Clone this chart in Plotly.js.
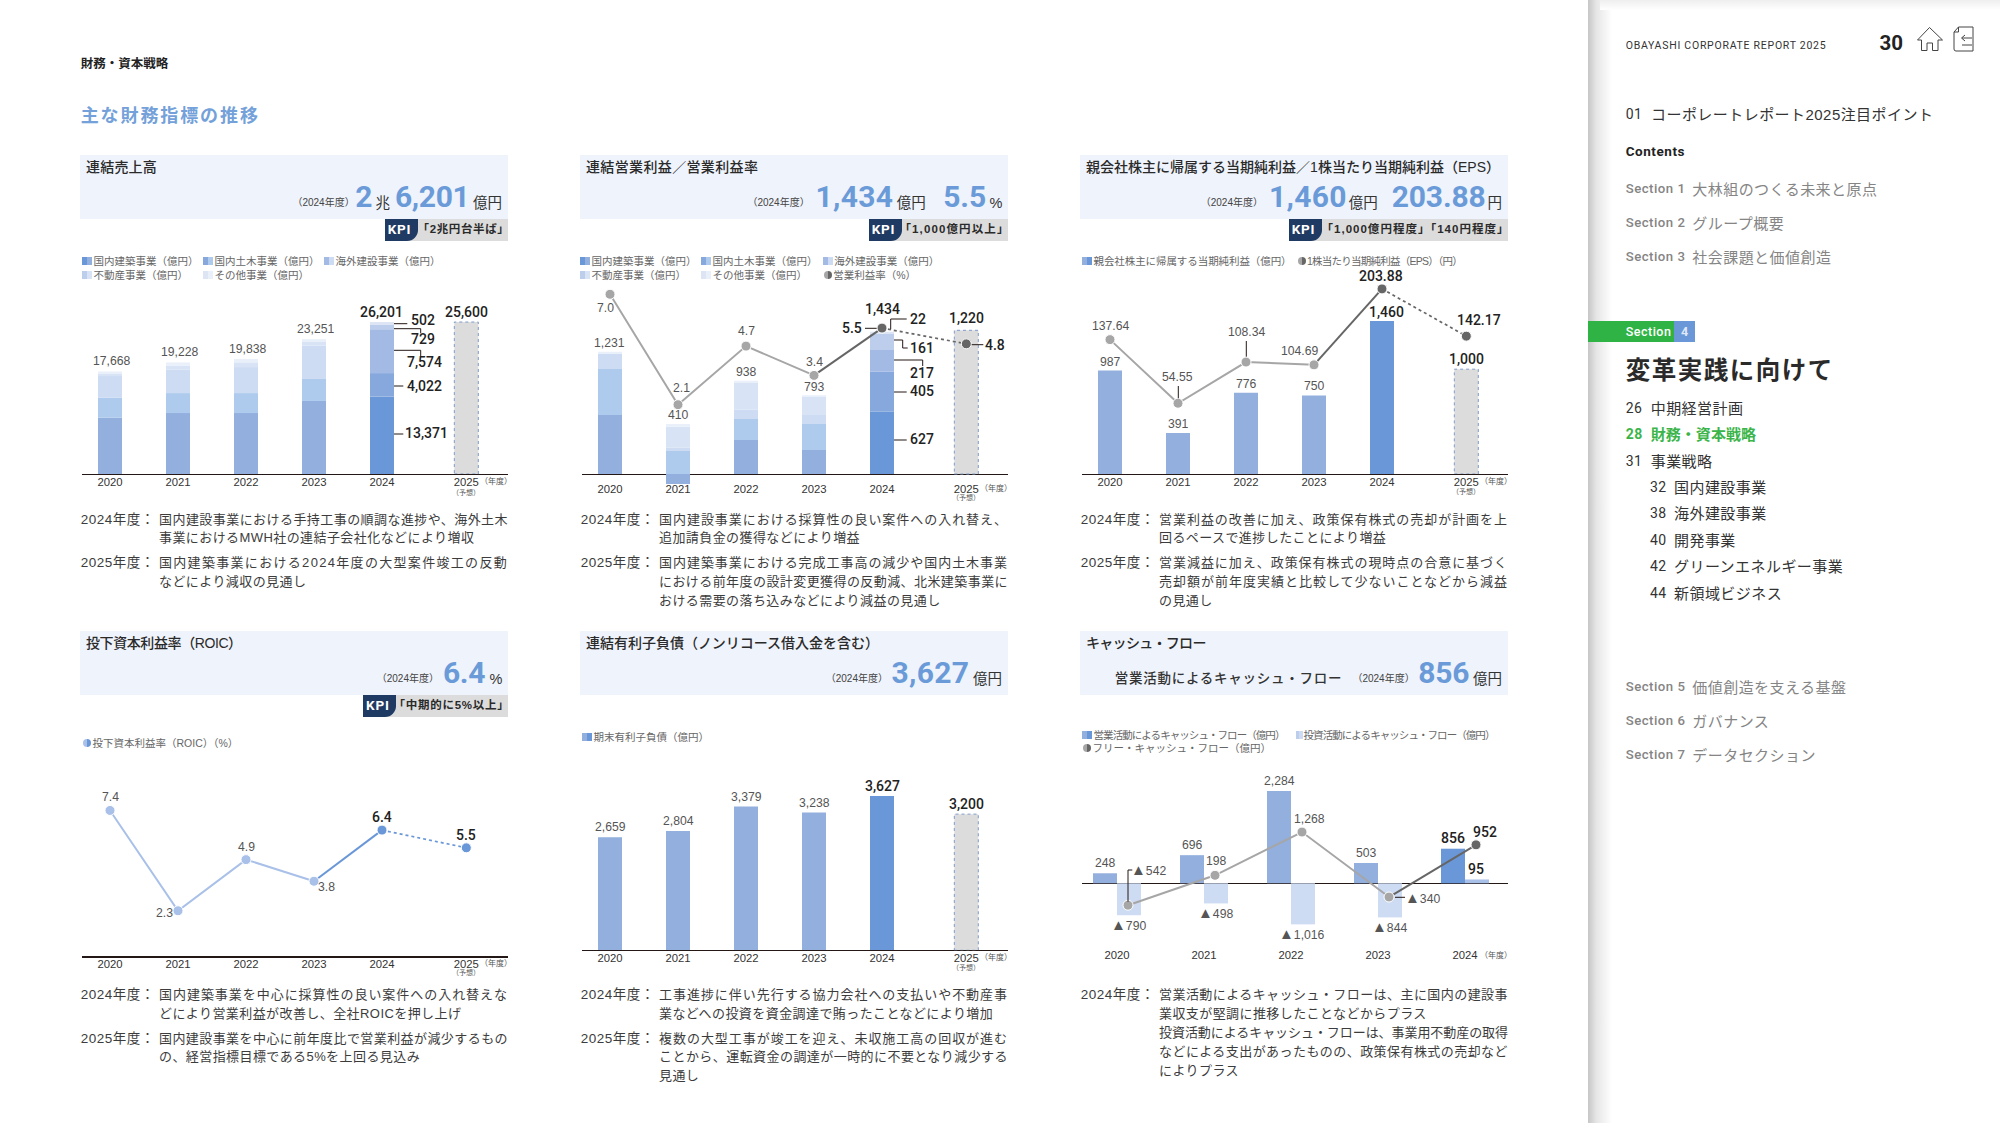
<!DOCTYPE html>
<html lang="ja">
<head>
<meta charset="utf-8">
<title>主な財務指標の推移</title>
<script src="https://cdn.plot.ly/plotly-3.0.1.min.js"></script>
<style>
html,body{margin:0;padding:0;background:#fff;width:2000px;height:1123px;overflow:hidden}
#page{position:absolute;left:0;top:0;width:2000px;height:1123px;font-family:"Liberation Sans","Noto Sans CJK JP",sans-serif;color:#333}
#plot{position:absolute;left:0;top:0;width:2000px;height:1123px}
.t{position:absolute;white-space:nowrap;line-height:1}
.box{position:absolute}
.body{position:absolute;white-space:nowrap;line-height:1.2;font-size:13px;color:#3c3c3c;letter-spacing:.42px;transform:translateY(-50%)}
</style>
</head>
<body>
<div id="page"></div>
<div id="plot"></div>
<script>
/* ---------- data ---------- */
const years = ["2020","2021","2022","2023","2024"];
const forecastYear = "2025";
const forecastSlot = 5.24;

const segmentNames = ["国内建築事業（億円）","国内土木事業（億円）","海外建設事業（億円）","不動産事業（億円）","その他事業（億円）"];

const salesDomesticBuilding = [9700,10500,10500,12590,13371];
const salesDomesticCivil    = [3450,3450,3450,3795,4022];
const salesOverseas         = [3740,4025,4485,5750,7574];
const salesRealEstate       = [450,690,820,620,729];
const salesOther            = [328,563,583,496,502];
const salesTotals           = [17668,19228,19838,23251,26201];
const salesForecastLabel    = 25600;
const salesForecastDrawn    = 26201;

const opDomesticBuilding = [594,-100,343,242,627];
const opDomesticCivil    = [463,232,212,262,405];
const opOverseas         = [151,34,91,91,217];
const opRealEstate       = [0,211,275,181,161];
const opOther            = [23,27,17,17,22];
const opTotals           = [1231,410,938,793,1434];
const opForecastLabel    = 1220;
const opForecastDrawn    = 1447;
const opMargin           = [7.0,2.1,4.7,3.4,5.5,4.8];

const netIncome          = [987,391,776,750,1460];
const netIncomeForecast  = 1000;
const eps                = [137.64,54.55,108.34,104.69,203.88,142.17];

const roic               = [7.4,2.3,4.9,3.8,6.4,5.5];

const debt               = [2659,2804,3379,3238,3627];
const debtForecast       = 3200;

const operatingCF        = [248,696,2284,503,856];
const investingCF        = [-790,-498,-1016,-844,95];
const freeCF             = [-542,198,1268,-340,952];

/* ---------- text content ---------- */
const panels = [
 {x:80, y:155, title:"連結売上高", titleW:71,
  values:[["（2024年度）",351.7,"p"],["2",373.3,"b"],["兆",390,"u"],["6,201",469.3,"b",74.3],["億円",502,"u"]],
  kpi:"「2兆円台半ば」", kpiX:385, kpiW:92},
 {x:580,y:155, title:"連結営業利益／営業利益率", titleW:172.3,
  values:[["（2024年度）",806.7,"p"],["1,434",893.3,"b",77.7],["億円",925.7,"u"],["5.5",986,"b",42.7],["%",1002.3,"u"]],
  kpi:"「1,000億円以上」", kpiX:869, kpiW:110},
 {x:1080,y:155,title:"親会社株主に帰属する当期純利益／1株当たり当期純利益（EPS）", titleW:414,
  values:[["（2024年度）",1260,"p"],["1,460",1346.7,"b",77.7],["億円",1377.7,"u"],["203.88",1485.7,"b",94],["円",1502,"u"]],
  kpi:"「1,000億円程度」「140円程度」", kpiX:1289, kpiW:188},
 {x:80, y:631, title:"投下資本利益率（ROIC）", titleW:155.7,
  values:[["（2024年度）",436,"p"],["6.4",485,"b",42],["%",502.3,"u"]],
  kpi:"「中期的に5%以上」", kpiX:363.3, kpiW:116},
 {x:580,y:631, title:"連結有利子負債（ノンリコース借入金を含む）", titleW:293,
  values:[["（2024年度）",885,"p"],["3,627",969.3,"b",77.7],["億円",1002,"u"]]},
 {x:1080,y:631,title:"キャッシュ・フロー", titleW:119.7,
  values:[["営業活動によるキャッシュ・フロー",1342.3,"s"],["（2024年度）",1411.7,"p"],["856",1469.3,"b",51],["億円",1502,"u"]]}
];

const notes = [
 {x:80,ys:[520,538.3],label:"2024年度：",lines:["国内建設事業における手持工事の順調な進捗や、海外土木","事業におけるMWH社の連結子会社化などにより増収"]},
 {x:80,ys:[563.3,582.3],label:"2025年度：",lines:["国内建築事業における2024年度の大型案件竣工の反動","などにより減収の見通し"]},
 {x:580,ys:[520,538.3],label:"2024年度：",lines:["国内建設事業における採算性の良い案件への入れ替え、","追加請負金の獲得などにより増益"]},
 {x:580,ys:[563.3,582.3,600.7],label:"2025年度：",lines:["国内建築事業における完成工事高の減少や国内土木事業","における前年度の設計変更獲得の反動減、北米建築事業に","おける需要の落ち込みなどにより減益の見通し"]},
 {x:1080,ys:[520,538.3],label:"2024年度：",lines:["営業利益の改善に加え、政策保有株式の売却が計画を上","回るペースで進捗したことにより増益"]},
 {x:1080,ys:[563.3,582.3,600.7],label:"2025年度：",lines:["営業減益に加え、政策保有株式の現時点の合意に基づく","売却額が前年度実績と比較して少ないことなどから減益","の見通し"]},
 {x:80,ys:[995,1014],label:"2024年度：",lines:["国内建築事業を中心に採算性の良い案件への入れ替えな","どにより営業利益が改善し、全社ROICを押し上げ"]},
 {x:80,ys:[1039,1057.3],label:"2025年度：",lines:["国内建設事業を中心に前年度比で営業利益が減少するもの","の、経営指標目標である5%を上回る見込み"]},
 {x:580,ys:[995,1014],label:"2024年度：",lines:["工事進捗に伴い先行する協力会社への支払いや不動産事","業などへの投資を資金調達で賄ったことなどにより増加"]},
 {x:580,ys:[1039,1057.3,1076],label:"2025年度：",lines:["複数の大型工事が竣工を迎え、未収施工高の回収が進む","ことから、運転資金の調達が一時的に不要となり減少する","見通し"]},
 {x:1080,ys:[995,1014,1033,1052,1070.7],label:"2024年度：",ragged:[1],lines:["営業活動によるキャッシュ・フローは、主に国内の建設事","業収支が堅調に推移したことなどからプラス","投資活動によるキャッシュ・フローは、事業用不動産の取得","などによる支出があったものの、政策保有株式の売却など","によりプラス"]}
];

const legends = [
 {y:261,items:[[82,segmentNames[0],0],[203,segmentNames[1],1],[324,segmentNames[2],2]]},
 {y:275,items:[[82,segmentNames[3],3],[203,segmentNames[4],4]]},
 {y:261,items:[[580,segmentNames[0],0],[701,segmentNames[1],1],[822.7,segmentNames[2],2]]},
 {y:275,items:[[580,segmentNames[3],3],[701,segmentNames[4],4],[822.7,"営業利益率（%）","g"]]},
 {y:261,items:[[1082,"親会社株主に帰属する当期純利益（億円）",0.5,198],[1296.5,"1株当たり当期純利益（EPS）（円）","g",155]]},
 {y:743,items:[[82,"投下資本利益率（ROIC）（%）","c"]]},
 {y:737,items:[[582,"期末有利子負債（億円）",0.5]]},
 {y:735,items:[[1082,"営業活動によるキャッシュ・フロー（億円）",0.5,191],[1296,"投資活動によるキャッシュ・フロー（億円）",2.5,191]]},
 {y:748.3,items:[[1082,"フリー・キャッシュ・フロー（億円）","g"]]}
];

const sideItems = [
 [1625.7,114,"01",1651,"コーポレートレポート2025注目ポイント","#333",400],
 [1625.7,189.3,"Section 1",1692.3,"大林組のつくる未来と原点","#858585",500],
 [1625.7,223,"Section 2",1692.3,"グループ概要","#858585",500],
 [1625.7,257,"Section 3",1692.3,"社会課題と価値創造","#858585",500],
 [1625.7,408.3,"26",1650.7,"中期経営計画","#333",400],
 [1625.7,434.3,"28",1650.7,"財務・資本戦略","#3bb54a",700],
 [1625.7,461,"31",1650.7,"事業戦略","#333",400],
 [1650,487.3,"32",1674,"国内建設事業","#333",400],
 [1650,513.3,"38",1674,"海外建設事業","#333",400],
 [1650,540,"40",1674,"開発事業","#333",400],
 [1650,566.3,"42",1674,"グリーンエネルギー事業","#333",400],
 [1650,593,"44",1674,"新領域ビジネス","#333",400],
 [1625.7,687,"Section 5",1692.3,"価値創造を支える基盤","#858585",500],
 [1625.7,721,"Section 6",1692.3,"ガバナンス","#858585",500],
 [1625.7,755,"Section 7",1692.3,"データセクション","#858585",500]
];

/* ---------- palette ---------- */
const BLUE_OLD=["#92afdd","#aecbee","#cddcf3","#d8e3f5","#e9f0fa"];
const BLUE_NEW=["#6a97d7","#86a8dc","#a3bae5","#bdcdec","#dde5f5"];
const GREY_BAR="#dcdcdc", DASH_BLUE="#7f9cc9", GREY_PT="#a6a6a6", DARK_PT="#666666";
const ROIC_OLD="#a9c0e8", ROIC_NEW="#6a97d7";
const SANS='"Liberation Sans","Noto Sans CJK JP",sans-serif';
const ROBOTO='Roboto,"Noto Sans CJK JP",sans-serif';

/* ---------- page chrome (HTML) ---------- */
const page=document.getElementById('page');
function box(x,y,w,h,css){const d=document.createElement('div');d.className='box';d.style.cssText=`left:${x}px;top:${y}px;width:${w}px;height:${h}px;${css||''}`;page.appendChild(d);return d;}
function put(x,yc,text,css){const s=document.createElement('span');s.className='t';s.textContent=text;s.style.cssText=`left:${x}px;top:${yc}px;transform:translateY(-50%);${css||''}`;page.appendChild(s);return s;}
function putR(xr,yc,text,css){const s=document.createElement('span');s.className='t';s.textContent=text;s.style.cssText=`left:${xr}px;top:${yc}px;transform:translate(-100%,-50%);${css||''}`;page.appendChild(s);return s;}
function fit(el,target){el.style.letterSpacing='0px';const w=el.getBoundingClientRect().width;el.style.letterSpacing=((target-w)/el.textContent.length).toFixed(3)+'px';return el;}

put(80.7,64.3,"財務・資本戦略","font-size:12.5px;font-weight:700;color:#222");
put(80.7,116,"主な財務指標の推移","font-size:18px;font-weight:700;color:#74a1d9;letter-spacing:1.9px");

panels.forEach(p=>{
  box(p.x,p.y,428,63.7,"background:#eff3fb");
  fit(put(p.x+6,p.y+11.7,p.title,"font-size:14px;color:#2a2a2a;font-weight:500"),p.titleW);
  const digitY=p.y+42, unitY=p.y+47.8;
  p.values.forEach(([txt,xr,k,w])=>{
    if(k==="b"){const el=putR(xr,digitY,txt,`font-family:${ROBOTO};font-weight:700;font-size:30px;letter-spacing:.8px;color:#6a9bd8`); if(w) fit(el,w);}
    if(k==="u") putR(xr,unitY,txt,"font-size:14.5px;color:#333");
    if(k==="p") putR(xr+3,unitY,txt,"font-size:10px;color:#444");
    if(k==="s") putR(xr,unitY,txt,"font-size:13.5px;font-weight:500;color:#333;letter-spacing:.75px");
  });
  if(p.kpi){
    const top=p.y+64, h=21.5, r=p.x+428;
    box(p.kpiX,top,r-p.kpiX,h,"background:#dcdcdc");
    box(p.kpiX,top,33,h,"background:#1f3a63;border-bottom-right-radius:11px");
    put(p.kpiX+2.7,top+h/2,"KPI",`font-family:${ROBOTO};font-weight:700;font-size:13.5px;color:#fff;letter-spacing:.8px`);
    fit(putR(r+1.5,top+h/2,p.kpi,"font-size:11.5px;font-weight:700;color:#2a2a2a"),p.kpiW);
  }
});

notes.forEach(n=>{
  put(n.x+.7,n.ys[0],n.label,"font-size:13.5px;color:#3c3c3c;letter-spacing:.5px");
  n.lines.forEach((ln,i)=>{
    const d=document.createElement('div');
    const full=i<n.lines.length-1 && !(n.ragged||[]).includes(i);
    d.className='body';
    d.textContent=ln;
    d.style.left=(n.x+79)+'px'; d.style.top=n.ys[i]+'px';
    page.appendChild(d);
    if(full) fit(d,349);
  });
});

legends.forEach(row=>{
  row.items.forEach(([x,name,kind,w])=>{
    let el;
    if(kind==="g"||kind==="c"){
      const a=kind==="g"?"#666666":"#6a97d7", b=kind==="g"?"#a6a6a6":"#a9c0e8";
      box(x+1,row.y-4,8,8,`border-radius:50%;background:linear-gradient(90deg,${b} 50%,${a} 50%)`);
      el=put(x+10.5,row.y,name,"font-size:10.5px;color:#666");
    }else if(kind===0.5||kind===2.5){
      const a=kind===0.5?BLUE_NEW[0]:BLUE_OLD[2], b=kind===0.5?BLUE_OLD[0]:BLUE_NEW[3];
      const sw=kind===0.5?10:6.5;
      box(x,row.y-4.4,sw,8.8,`background:linear-gradient(90deg,${b} 50%,${a} 50%)`);
      el=put(x+(kind===0.5?11.5:7.5),row.y,name,"font-size:10.5px;color:#666");
    }else{
      box(x,row.y-4.4,10,8.8,`background:linear-gradient(90deg,${BLUE_NEW[kind]} 50%,${BLUE_OLD[kind]} 50%)`);
      el=put(x+11.5,row.y,name,"font-size:10.5px;color:#666");
    }
    if(w) fit(el,w);
  });
});

/* sidebar */
box(1588,0,24,1123,"background:linear-gradient(90deg,#c6c6c6,#e6e6e6 35%,#fff)");
box(1600,0,400,10,"background:linear-gradient(180deg,#eeeeee,#fff)");
put(1625.7,46,"OBAYASHI CORPORATE REPORT 2025",`font-family:${ROBOTO};font-size:10.5px;color:#333;letter-spacing:.74px`);
put(1879.5,42.7,"30",`font-family:${ROBOTO};font-weight:700;font-size:20.5px;color:#222`);
const icons=document.createElement('div');
icons.innerHTML=`<svg style="position:absolute;left:1916px;top:26px" width="60" height="27" viewBox="0 0 60 27" fill="none" stroke="#444" stroke-width="1">
<path d="M1.5 14 L13.5 1.5 L26.5 14 L22 14 L22 24.5 L16.5 24.5 L16.5 17 L11 17 L11 24.5 L5.5 24.5 L5.5 14 Z"/>
<path d="M42.5 1 L57 1 L57 25 L40 25 Q38 25 38 23 L38 6 Z M42.5 1 L42.5 6 L38 6"/>
<path d="M56 12 L46 12 M49 9 L45.5 12 L49 15 M46 19 L56 19"/></svg>`;
page.appendChild(icons);
put(1625.7,152,"Contents",`font-family:${ROBOTO};font-weight:700;font-size:13.5px;color:#222;letter-spacing:.55px`);
box(1588,321,86,21,"background:#2fb344");
box(1674,321,21,21,"background:#6a97d7");
put(1625.7,331.5,"Section",`font-family:${ROBOTO};font-size:12.5px;font-weight:500;color:#fff;letter-spacing:.5px`);
put(1681,331.5,"4",`font-family:${ROBOTO};font-size:12.5px;font-weight:700;color:#dfe9f8`);
put(1625.7,371,"変革実践に向けて","font-size:24.5px;font-weight:700;color:#2a2a2a;letter-spacing:1.5px");
sideItems.forEach(([nx,y,num,tx,label,col,w])=>{
  const isSection=num.startsWith("Section");
  put(nx,y,num,`font-family:${ROBOTO};font-size:${isSection?13.2:14}px;color:${col};font-weight:${w};letter-spacing:.5px`);
  put(tx,y,label,`font-size:15px;letter-spacing:${w===700?.05:.45}px;color:${col};font-weight:${w===500?400:w}`);
});

/* ---------- plotly figure ---------- */
const W=2000,H=1123;
const px=x=>x/W, py=y=>1-y/H;
const slots=[0,1,2,3,4];
const allSlots=slots.concat([forecastSlot]);
const spacing=68, firstBar=28, plotW=426, barW=24/68;
const traces=[], shapes=[], annotations=[];
const layout={width:W,height:H,margin:{l:0,r:0,t:0,b:0,pad:0},paper_bgcolor:'rgba(0,0,0,0)',plot_bgcolor:'rgba(0,0,0,0)',
  showlegend:false,barmode:'relative',hovermode:false,shapes,annotations,font:{family:SANS}};

function yRange(bottom,top,zero,unitsPerPx){return [(zero-bottom)*unitsPerPx,(zero-top)*unitsPerPx];}
function setAxes(n,left,bottom,top,range,opt){
  opt=opt||{};
  const sp=opt.spacing||spacing, fb=opt.firstBar||firstBar;
  const vals=opt.tickvals||allSlots, text=opt.ticktext||years.concat([forecastYear]);
  layout['xaxis'+(n===1?'':n)]={domain:[px(left),px(left+plotW)],range:[-fb/sp,(plotW-fb)/sp],anchor:'y'+(n===1?'':n),
    tickmode:'array',tickvals:vals,ticktext:text,ticks:'',showgrid:false,zeroline:false,fixedrange:true,
    showline:!opt.zero,linecolor:'#231815',linewidth:opt.lineW||1,
    tickfont:{size:11.3,color:'#333',family:SANS},ticklabelstandoff:opt.standoff||0,automargin:false};
  layout['yaxis'+(n===1?'':n)]={domain:[py(bottom),py(top)],range,anchor:'x'+(n===1?'':n),showticklabels:false,ticks:'',
    showgrid:false,showline:false,fixedrange:true,automargin:false,zeroline:!!opt.zero,zerolinecolor:'#231815',zerolinewidth:1};
}
function overlay(id,baseN,bottom,top,zero,unitsPerPx){
  layout['yaxis'+id]={domain:[py(bottom),py(top)],range:yRange(bottom,top,zero,unitsPerPx),overlaying:'y'+baseN,anchor:'x'+baseN,
    visible:false,fixedrange:true};
}
const fmt=v=>v.toLocaleString('en-US');
const tri=v=>v<0?'<span style="font-size:15px">▲</span>'+fmt(-v):fmt(v);
const LBL={size:12.2,color:'#555',family:SANS};
const STRONG={size:14,color:'#222',family:ROBOTO,weight:500};
function lab(xa,ya,x,y,text,dx,dy,font){annotations.push({xref:xa,yref:ya,x,y,text,showarrow:false,xanchor:'center',yanchor:'middle',xshift:dx,yshift:dy,font:font||LBL,borderpad:0});}
function pxLab(x,y,text,font){annotations.push({xref:'paper',yref:'paper',x:px(x),y:py(y),text,showarrow:false,xanchor:'center',yanchor:'middle',font:font||STRONG,borderpad:0});}
function leader(pts,color){shapes.push({type:'path',xref:'paper',yref:'paper',path:pts.map((p,i)=>(i?'L':'M')+px(p[0])+' '+py(p[1])).join(' '),line:{color:color||'#231815',width:1},layer:'above'});}
function bar(xa,ya,x,y,colors,width){traces.push({type:'bar',xaxis:xa,yaxis:ya,x,y,width:width||barW,marker:{color:colors,line:{width:0}},cliponaxis:false});}
function forecastBar(xa,ya,v){
  bar(xa,ya,[forecastSlot],[v],[GREY_BAR]);
  shapes.push({type:'rect',xref:xa,yref:ya,x0:forecastSlot-barW/2,x1:forecastSlot+barW/2,y0:0,y1:v,line:{color:DASH_BLUE,width:1,dash:'dot'},fillcolor:'rgba(0,0,0,0)',layer:'above'});
}
function eachLast(c,n){return years.map((_,i)=>i===years.length-1?n:c);}
function lineSet(xa,ya,xs,vals,cOld,cNew,dashLast){
  const n=vals.length;
  traces.push({type:'scatter',mode:'lines',xaxis:xa,yaxis:ya,x:xs.slice(0,n-(dashLast?2:1)),y:vals.slice(0,n-(dashLast?2:1)),line:{color:cOld,width:2},cliponaxis:false});
  const a=n-(dashLast?3:2);
  traces.push({type:'scatter',mode:'lines',xaxis:xa,yaxis:ya,x:xs.slice(a,a+2),y:vals.slice(a,a+2),line:{color:cNew,width:2},cliponaxis:false});
  if(dashLast) traces.push({type:'scatter',mode:'lines',xaxis:xa,yaxis:ya,x:xs.slice(n-2),y:vals.slice(n-2),line:{color:cNew,width:1.7,dash:'3px,3px'},cliponaxis:false});
  const firstNew=dashLast?n-2:n-1;
  traces.push({type:'scatter',mode:'markers',xaxis:xa,yaxis:ya,x:xs,y:vals,cliponaxis:false,
    marker:{size:10,color:vals.map((_,i)=>i>=firstNew?cNew:cOld),line:{color:'#fff',width:1}}});
}
function yearNotes(offX,nenY,yosoY){
  annotations.push({xref:'paper',yref:'paper',x:px(offX+416),y:py(nenY),text:'（年度）',showarrow:false,xanchor:'center',yanchor:'middle',font:{size:8,color:'#555',family:SANS}});
  if(yosoY) annotations.push({xref:'paper',yref:'paper',x:px(offX+386.3),y:py(yosoY),text:'（予想）',showarrow:false,xanchor:'center',yanchor:'middle',font:{size:7,color:'#555',family:SANS}});
}

/* chart 1 : 連結売上高 */
setAxes(1,82,474,290,yRange(474,290,474,172.4),{standoff:-3});
[salesDomesticBuilding,salesDomesticCivil,salesOverseas,salesRealEstate,salesOther].forEach((s,k)=>bar('x','y',slots,s,eachLast(BLUE_OLD[k],BLUE_NEW[k])));
forecastBar('x','y',salesForecastDrawn);
salesTotals.forEach((v,i)=>lab('x','y',i,v,fmt(v),i===4?-1:1,i===4?10.5:10.3,i===4?STRONG:LBL));
lab('x','y',forecastSlot,salesForecastDrawn,fmt(salesForecastLabel),0,10.5,STRONG);
pxLab(422.7,320.3,fmt(salesOther[4]));     leader([[394,323.7],[407.3,323.7]]);
pxLab(422.7,339.3,fmt(salesRealEstate[4]));leader([[394,328.7],[420.7,328.7],[420.7,333.3]]);
pxLab(424.3,362.3,fmt(salesOverseas[4]));  leader([[394,350.3],[420.7,350.3],[420.7,356]]);
pxLab(424,385.7,fmt(salesDomesticCivil[4]));leader([[394,386],[403.3,386]]);
pxLab(426,433.3,fmt(salesDomesticBuilding[4]));leader([[394,434],[403.3,434]]);
yearNotes(80,481,491.7);

/* chart 2 : 連結営業利益／営業利益率 */
setAxes(2,582,484.5,285,yRange(484.5,285,474,10.07),{zero:true,standoff:-4});
overlay(7,2,484.5,285,452,1/22.53);
[opDomesticBuilding,opDomesticCivil,opOverseas,opRealEstate,opOther].forEach((s,k)=>bar('x2','y2',slots,s,eachLast(BLUE_OLD[k],BLUE_NEW[k])));
forecastBar('x2','y2',opForecastDrawn);
const opPositiveTop=slots.map(i=>[opDomesticBuilding,opDomesticCivil,opOverseas,opRealEstate,opOther].reduce((a,s)=>a+Math.max(s[i],0),0));
opTotals.forEach((v,i)=>lab('x2','y2',i,opPositiveTop[i],fmt(v),i===0?-1:0,i===4?23:8.6,i===4?STRONG:LBL));
lab('x2','y2',forecastSlot,opForecastDrawn,fmt(opForecastLabel),0,12,STRONG);
lineSet('x2','y7',allSlots,opMargin,GREY_PT,DARK_PT,true);
[[-4.3,-13.3],[3.7,16.7],[0,14.7],[0,13.7]].forEach(([dx,dy],i)=>lab('x2','y7',i,opMargin[i],opMargin[i].toFixed(1),dx,dy));
lab('x2','y7',4,opMargin[4],opMargin[4].toFixed(1),-30,0,STRONG);  leader([[865,328.3],[876.7,328.3]]);
lab('x2','y7',forecastSlot,opMargin[5],opMargin[5].toFixed(1),28.7,-1.5,STRONG); leader([[971.7,344.7],[983.3,344.7]]);
pxLab(918,318.7,fmt(opOther[4]));     leader([[890.7,329.3],[890.7,319],[906.7,319]]);
pxLab(922,348.3,fmt(opRealEstate[4]));leader([[894,340],[902.7,340],[902.7,348],[907.7,348]]);
pxLab(922.3,373.3,fmt(opOverseas[4]));leader([[894,360],[922.7,360],[922.7,366]]);
pxLab(922.3,391.3,fmt(opDomesticCivil[4]));leader([[894,392],[906.7,392]]);
pxLab(922.3,439.3,fmt(opDomesticBuilding[4]));leader([[894,440],[906.7,440]]);
yearNotes(580,488,497.3);

/* chart 3 : 純利益／EPS */
setAxes(3,1082,474,285,yRange(474,285,474,9.54),{standoff:-3});
overlay(8,3,474,285,445,1/0.7656);
bar('x3','y3',slots,netIncome,eachLast(BLUE_OLD[0],BLUE_NEW[0]));
forecastBar('x3','y3',netIncomeForecast);
netIncome.forEach((v,i)=>lab('x3','y3',i,v,fmt(v),i===4?4:0,i===4?8.7:9,i===4?STRONG:LBL));
lab('x3','y3',forecastSlot,netIncomeForecast,fmt(netIncomeForecast),0,10,STRONG);
lineSet('x3','y8',allSlots,eps,GREY_PT,DARK_PT,true);
[[0,13.7,0],[-0.3,26.3,0],[0,30,0],[-15,13.7,0],[-1,12.7,1],[12.7,15.7,1]].forEach(([dx,dy,s],i)=>lab('x3','y8',allSlots[i],eps[i],eps[i].toFixed(2),dx,dy,s?STRONG:LBL));
leader([[1178.3,386],[1178.3,398.3]]); leader([[1246.3,341],[1246.3,356.7]]);
yearNotes(1080,481,491.3);

/* chart 4 : ROIC */
setAxes(4,82,956,780,[0,176/19.67],{lineW:2,standoff:-4});
lineSet('x4','y4',allSlots,roic,ROIC_OLD,ROIC_NEW,true);
[[0,13.3,0],[-13.7,-2.3,0],[0,12.3,0],[12.7,-5.7,0],[0,12.7,1],[0,13,1]].forEach(([dx,dy,s],i)=>lab('x4','y4',allSlots[i],roic[i],roic[i].toFixed(1),dx,dy,s?STRONG:LBL));
yearNotes(80,963,972.3);

/* chart 5 : 有利子負債 */
setAxes(5,582,950.3,770,yRange(950.3,770,950.3,23.5),{standoff:-3});
bar('x5','y5',slots,debt,eachLast(BLUE_OLD[0],BLUE_NEW[0]));
forecastBar('x5','y5',debtForecast);
debt.forEach((v,i)=>lab('x5','y5',i,v,fmt(v),0,10,i===4?STRONG:LBL));
lab('x5','y5',forecastSlot,debtForecast,fmt(debtForecast),0,10,STRONG);
yearNotes(580,957.3,967.3);

/* chart 6 : キャッシュ・フロー */
const cfSpacing=87, cfBarW=24/87, fcfOffset=11/87;
setAxes(6,1082,947,770,yRange(947,770,883.3,24.75),{zero:true,spacing:cfSpacing,firstBar:35,tickvals:slots,ticktext:years});
const cfLeft=slots.map(i=>i-cfBarW/2), cfRight=slots.map(i=>i+cfBarW/2), fcfX=slots.map(i=>i+fcfOffset);
bar('x6','y6',cfLeft,operatingCF,eachLast(BLUE_OLD[0],BLUE_NEW[0]),cfBarW);
bar('x6','y6',cfRight,investingCF,investingCF.map((v,i)=>i===4?'#a9c0e8':BLUE_OLD[2]),cfBarW);
lineSet('x6','y6',fcfX,freeCF,GREY_PT,DARK_PT,false);
operatingCF.forEach((v,i)=>lab('x6','y6',cfLeft[i],v,fmt(v),0,10.3,i===4?STRONG:LBL));
investingCF.forEach((v,i)=>lab('x6','y6',cfRight[i],v,tri(v),-1,v<0?-9.5:10.7,i===4?STRONG:LBL));
lab('x6','y6',fcfX[1],freeCF[1],tri(freeCF[1]),1.3,14);
lab('x6','y6',fcfX[2],freeCF[2],tri(freeCF[2]),7.3,12.7);
lab('x6','y6',fcfX[3],freeCF[3],tri(freeCF[3]),33,0);
lab('x6','y6',fcfX[4],freeCF[4],tri(freeCF[4]),8.7,13,STRONG);
pxLab(1148.7,869,tri(freeCF[0]),LBL); leader([[1128,901.7],[1128,870],[1132.3,870]]);
leader([[1395,897.3],[1405,897.3]]);
yearNotes(1080,955.3);

Plotly.newPlot('plot',traces,layout,{staticPlot:true,displayModeBar:false,responsive:false});
</script>
</body>
</html>
